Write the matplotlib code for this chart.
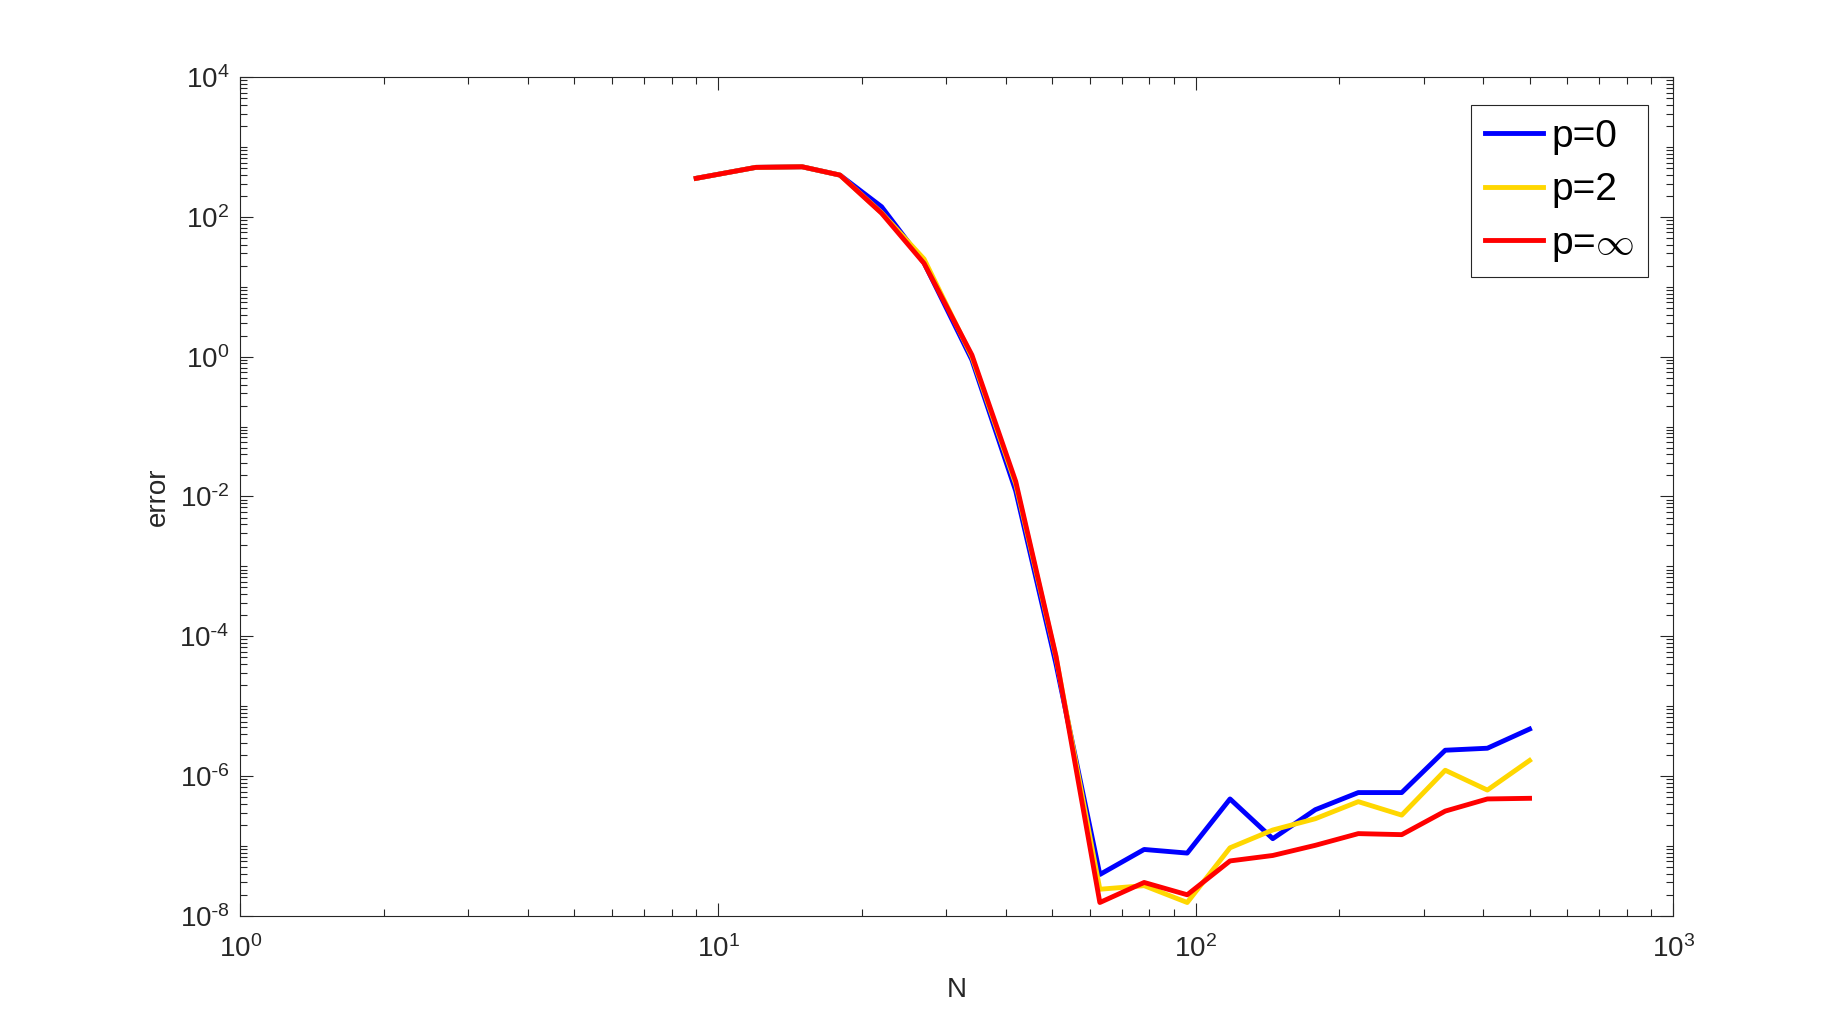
import matplotlib
matplotlib.use("Agg")
import matplotlib.pyplot as plt
import numpy as np
from matplotlib.ticker import LogLocator, FuncFormatter, NullFormatter, FixedLocator

plt.rcParams['font.family'] = ['Liberation Sans', 'DejaVu Sans']
plt.rcParams['mathtext.fontset'] = 'cm'
plt.rcParams['axes.unicode_minus'] = False

N = [9, 12, 15, 18, 22, 27, 34, 42, 51, 63, 78, 96, 118, 145, 178, 219, 270, 333, 408, 500]
err_p0 = [357, 512, 522, 397, 140, 22, 0.9, 0.012, 4.0e-5, 3.9e-8, 8.9e-8, 7.9e-8,
          4.7e-7, 1.27e-7, 3.3e-7, 5.8e-7, 5.8e-7, 2.34e-6, 2.5e-6, 4.7e-6]
err_p2 = [357, 512, 522, 397, 115, 25, 1.0, 0.015, 5.0e-5, 2.4e-8, 2.7e-8, 1.55e-8,
          9.4e-8, 1.69e-7, 2.45e-7, 4.3e-7, 2.76e-7, 1.21e-6, 6.3e-7, 1.67e-6]
err_pinf = [357, 512, 522, 397, 113, 21.7, 1.06, 0.0164, 5.2e-5, 1.55e-8, 3.0e-8, 2.0e-8,
            6.1e-8, 7.3e-8, 1.02e-7, 1.5e-7, 1.45e-7, 3.15e-7, 4.7e-7, 4.8e-7]
labels = ['p=0', 'p=2', r'p=$\infty$']
colors = ['#0000FF', '#FFD700', '#FF0000']
ytick_vals = [1e-8, 1e-6, 1e-4, 1e-2, 1, 1e2, 1e4]


def pow10(v, pos=None):
    k = int(round(np.log10(v)))
    if k < 0:
        return r'$\mathregular{10^{\text{-}%d}}$' % (-k)
    return r'$\mathregular{10^{%d}}$' % k


fig = plt.figure(figsize=(18.49, 10.29), dpi=100)
ax = fig.add_axes([0.13, 0.11, 0.775, 0.815])

for y, lab, c in zip([err_p0, err_p2, err_pinf], labels, colors):
    ax.plot(N, y, color=c, lw=3.5, label=lab)

ax.set_xscale('log')
ax.set_yscale('log')
ax.set_xlim(1, 1000)
ax.set_ylim(1e-8, 1e4)

ax.xaxis.set_major_locator(LogLocator(base=10, numticks=10))
ax.yaxis.set_major_locator(FixedLocator(ytick_vals))
ax.xaxis.set_major_formatter(FuncFormatter(pow10))
ax.yaxis.set_major_formatter(FuncFormatter(pow10))
ax.xaxis.set_minor_locator(LogLocator(base=10, subs=range(2, 10), numticks=20))
ax.yaxis.set_minor_locator(LogLocator(base=10, subs=range(1, 10), numticks=30))
ax.xaxis.set_minor_formatter(NullFormatter())
ax.yaxis.set_minor_formatter(NullFormatter())

tc = '#262626'
ax.tick_params(which='both', direction='in', top=True, right=True, colors=tc, width=0.8)
ax.tick_params(which='major', length=9.5, labelsize=20, labelcolor=tc)
ax.tick_params(which='minor', length=5)
ax.tick_params(axis='x', which='major', pad=14)
ax.tick_params(axis='y', which='major', pad=8)
for s in ax.spines.values():
    s.set_color(tc)
    s.set_linewidth(0.8)

ax.set_xlabel('N', fontsize=20, color=tc, labelpad=10)
ax.set_ylabel('error', fontsize=20, color=tc, labelpad=6)

leg = ax.legend(loc='upper right', bbox_to_anchor=(0.982, 0.9665), borderaxespad=0,
                fontsize=28, fancybox=False, edgecolor=tc, framealpha=1,
                handlelength=1.5, handletextpad=0.2, labelspacing=0.45, borderpad=0.35)
leg.get_frame().set_linewidth(0.8)

fig.savefig('out.png', dpi=100, facecolor='white')
